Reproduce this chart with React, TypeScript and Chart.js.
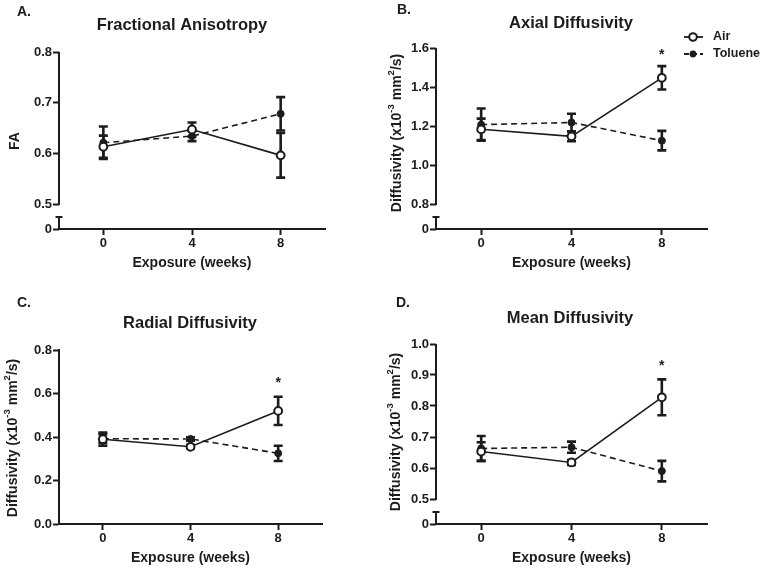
import React, { useEffect, useRef } from "react";
import { Chart, registerables } from "chart.js";

Chart.register(...registerables);

// ---------- shared data ----------
const weeks = [0, 4, 8];
const xTicks = [0, 4, 8];
const seriesNames = ["Air", "Toluene"];
const xTitle = "Exposure (weeks)";

// A. Fractional Anisotropy
const faAir = [0.613, 0.647, 0.596];
const faAirSem = [0.022, 0.014, 0.044];
const faTol = [0.621, 0.634, 0.678];
const faTolSem = [0.032, 0.01, 0.033];
const faStar: (number | null)[] = [null, null, null];
const faYTicks = [0, 0.5, 0.6, 0.7, 0.8];
const faYLabels = ["0", "0.5", "0.6", "0.7", "0.8"];

// B. Axial Diffusivity
const adAir = [1.183, 1.147, 1.447];
const adAirSem = [0.055, 0.025, 0.06];
const adTol = [1.207, 1.218, 1.125];
const adTolSem = [0.083, 0.045, 0.05];
const adStar: (number | null)[] = [null, null, 1.574];
const adYTicks = [0, 0.8, 1.0, 1.2, 1.4, 1.6];
const adYLabels = ["0", "0.8", "1.0", "1.2", "1.4", "1.6"];

// C. Radial Diffusivity
const rdAir = [0.39, 0.355, 0.52];
const rdAirSem = [0.03, 0.008, 0.065];
const rdTol = [0.392, 0.391, 0.325];
const rdTolSem = [0.02, 0.008, 0.035];
const rdStar: (number | null)[] = [null, null, 0.659];
const rdYTicks = [0, 0.2, 0.4, 0.6, 0.8];
const rdYLabels = ["0.0", "0.2", "0.4", "0.6", "0.8"];

// D. Mean Diffusivity
const mdAir = [0.653, 0.618, 0.828];
const mdAirSem = [0.03, 0.008, 0.058];
const mdTol = [0.663, 0.667, 0.59];
const mdTolSem = [0.04, 0.018, 0.033];
const mdStar: (number | null)[] = [null, null, 0.935];
const mdYTicks = [0, 0.5, 0.6, 0.7, 0.8, 0.9, 1.0];
const mdYLabels = ["0", "0.5", "0.6", "0.7", "0.8", "0.9", "1.0"];

const diffTitle = [
  { t: "Diffusivity (x10" },
  { t: "-3", sup: true },
  { t: " mm" },
  { t: "2", sup: true },
  { t: "/s)" },
];

// ---------- layout / style ----------
const INK = "#1c1c1c";
const FONT = "'Liberation Sans', Arial, Helvetica, sans-serif";
const W = 384;
const H = 285;

type Part = { t: string; sup?: boolean };
type PanelDef = {
  col: number;
  row: number;
  letter: string;
  letterPos: [number, number];
  title: string;
  titlePos: [number, number];
  yTitle: Part[];
  yTitlePos: [number, number];
  area: { l: number; t: number; r: number; b: number };
  breakAt: number | null;
  yMax: number;
  yTicks: number[];
  yLabels: string[];
  air: number[];
  airSem: number[];
  tol: number[];
  tolSem: number[];
  star: (number | null)[];
  legend: boolean;
};

const panels: PanelDef[] = [
  {
    col: 0, row: 0, letter: "A.", letterPos: [17, 12],
    title: "Fractional Anisotropy", titlePos: [182, 25],
    yTitle: [{ t: "FA" }], yTitlePos: [15, 141],
    area: { l: 59, t: 52, r: 325, b: 229 },
    breakAt: 0.5, yMax: 0.8, yTicks: faYTicks, yLabels: faYLabels,
    air: faAir, airSem: faAirSem, tol: faTol, tolSem: faTolSem, star: faStar, legend: false,
  },
  {
    col: 1, row: 0, letter: "B.", letterPos: [13, 10],
    title: "Axial Diffusivity", titlePos: [187, 23],
    yTitle: diffTitle, yTitlePos: [13, 133],
    area: { l: 52, t: 48, r: 323, b: 229 },
    breakAt: 0.8, yMax: 1.6, yTicks: adYTicks, yLabels: adYLabels,
    air: adAir, airSem: adAirSem, tol: adTol, tolSem: adTolSem, star: adStar, legend: true,
  },
  {
    col: 0, row: 1, letter: "C.", letterPos: [17, 18],
    title: "Radial Diffusivity", titlePos: [190, 38],
    yTitle: diffTitle, yTitlePos: [13, 153],
    area: { l: 59, t: 65, r: 322, b: 239 },
    breakAt: null, yMax: 0.8, yTicks: rdYTicks, yLabels: rdYLabels,
    air: rdAir, airSem: rdAirSem, tol: rdTol, tolSem: rdTolSem, star: rdStar, legend: false,
  },
  {
    col: 1, row: 1, letter: "D.", letterPos: [12, 18],
    title: "Mean Diffusivity", titlePos: [186, 33],
    yTitle: diffTitle, yTitlePos: [12, 147],
    area: { l: 52, t: 59, r: 323, b: 239 },
    breakAt: 0.5, yMax: 1.0, yTicks: mdYTicks, yLabels: mdYLabels,
    air: mdAir, airSem: mdAirSem, tol: mdTol, tolSem: mdTolSem, star: mdStar, legend: false,
  },
];

const BREAK_GAP = 25; // px between axis bottom and the lowest upper tick
const CAP_OFFSET = 12; // px height of the lower stub

function scaleMin(p: PanelDef): number {
  if (p.breakAt == null) return 0;
  const h = p.area.b - p.area.t;
  const perPx = (p.yMax - p.breakAt) / (h - BREAK_GAP);
  return p.breakAt - BREAK_GAP * perPx;
}

function drawRich(ctx: CanvasRenderingContext2D, parts: Part[], cx: number, cy: number) {
  const main = `bold 14px ${FONT}`;
  const sup = `bold 9.5px ${FONT}`;
  let total = 0;
  const widths = parts.map((pt) => {
    ctx.font = pt.sup ? sup : main;
    const w = ctx.measureText(pt.t).width;
    total += w;
    return w;
  });
  ctx.save();
  ctx.translate(cx, cy);
  ctx.rotate(-Math.PI / 2);
  ctx.fillStyle = INK;
  ctx.textBaseline = "middle";
  ctx.textAlign = "left";
  let x = -total / 2;
  parts.forEach((pt, i) => {
    ctx.font = pt.sup ? sup : main;
    ctx.fillText(pt.t, x, pt.sup ? -6 : 0);
    x += widths[i];
  });
  ctx.restore();
}

function makePlugin(p: PanelDef) {
  return {
    id: "panelDeco",
    beforeDatasetsDraw(chart: any) {
      const ctx: CanvasRenderingContext2D = chart.ctx;
      const ys = chart.scales.y;
      ctx.save();
      ctx.strokeStyle = INK;
      ctx.lineWidth = 2.6;
      chart.data.datasets.forEach((ds: any, di: number) => {
        const meta = chart.getDatasetMeta(di);
        meta.data.forEach((el: any, i: number) => {
          const v = ds.data[i].y;
          const s = ds.sem[i];
          const x = el.x;
          const y1 = ys.getPixelForValue(v + s);
          const y2 = ys.getPixelForValue(v - s);
          ctx.beginPath();
          ctx.moveTo(x, y1);
          ctx.lineTo(x, y2);
          ctx.moveTo(x - 4.5, y1);
          ctx.lineTo(x + 4.5, y1);
          ctx.moveTo(x - 4.5, y2);
          ctx.lineTo(x + 4.5, y2);
          ctx.stroke();
        });
      });
      ctx.restore();
    },
    afterDraw(chart: any) {
      const ctx: CanvasRenderingContext2D = chart.ctx;
      const ys = chart.scales.y;
      const xs = chart.scales.x;
      const ca = chart.chartArea;
      ctx.save();
      // broken y axis
      if (p.breakAt != null) {
        ctx.strokeStyle = INK;
        ctx.lineWidth = 2;
        const x0 = Math.round(ca.left);
        const yb = ys.getPixelForValue(p.breakAt);
        ctx.beginPath();
        ctx.moveTo(x0, ca.top);
        ctx.lineTo(x0, yb + 1);
        ctx.moveTo(x0, ca.bottom - CAP_OFFSET);
        ctx.lineTo(x0, ca.bottom);
        ctx.moveTo(x0 - 3.5, ca.bottom - CAP_OFFSET);
        ctx.lineTo(x0 + 3.5, ca.bottom - CAP_OFFSET);
        ctx.stroke();
      }
      // significance stars
      ctx.fillStyle = INK;
      ctx.font = `bold 14px ${FONT}`;
      ctx.textAlign = "center";
      ctx.textBaseline = "middle";
      p.star.forEach((s, i) => {
        if (s == null) return;
        ctx.fillText("*", xs.getPixelForValue(weeks[i]), ys.getPixelForValue(s) + 2);
      });
      // title
      ctx.font = `bold 16.5px ${FONT}`;
      ctx.fillText(p.title, p.titlePos[0], p.titlePos[1]);
      // letter
      ctx.font = `bold 14px ${FONT}`;
      ctx.textAlign = "left";
      ctx.fillText(p.letter, p.letterPos[0], p.letterPos[1]);
      ctx.restore();
      // y title
      drawRich(ctx, p.yTitle, p.yTitlePos[0], p.yTitlePos[1]);
      // legend
      if (p.legend) {
        ctx.save();
        const rows = [37, 54];
        chart.data.datasets.forEach((ds: any, di: number) => {
          const y = rows[di];
          ctx.strokeStyle = INK;
          ctx.lineWidth = 1.8;
          ctx.setLineDash(di === 1 ? [5, 3] : []);
          ctx.beginPath();
          ctx.moveTo(300, y);
          ctx.lineTo(319, y);
          ctx.stroke();
          ctx.setLineDash([]);
          ctx.beginPath();
          ctx.arc(309, y, di === 0 ? 3.8 : 3.4, 0, Math.PI * 2);
          ctx.fillStyle = di === 0 ? "#ffffff" : INK;
          ctx.fill();
          if (di === 0) {
            ctx.lineWidth = 2;
            ctx.stroke();
          }
          ctx.fillStyle = INK;
          ctx.font = `bold 12.5px ${FONT}`;
          ctx.textAlign = "left";
          ctx.textBaseline = "middle";
          ctx.fillText(seriesNames[di], 329, y);
        });
        ctx.restore();
      }
    },
  };
}

function Panel({ p }: { p: PanelDef }) {
  const ref = useRef<HTMLCanvasElement | null>(null);
  useEffect(() => {
    if (!ref.current) return;
    const yMin = scaleMin(p);
    const chart = new Chart(ref.current, {
      type: "line",
      data: {
        datasets: [
          {
            label: seriesNames[0],
            data: weeks.map((w, i) => ({ x: w, y: p.air[i] })),
            sem: p.airSem,
            borderColor: INK,
            borderWidth: 1.6,
            pointRadius: 3.9,
            pointBorderWidth: 2,
            pointBackgroundColor: "#ffffff",
            pointBorderColor: INK,
            fill: false,
            tension: 0,
          } as any,
          {
            label: seriesNames[1],
            data: weeks.map((w, i) => ({ x: w, y: p.tol[i] })),
            sem: p.tolSem,
            borderColor: INK,
            borderWidth: 1.6,
            borderDash: [6, 4],
            pointRadius: 3.5,
            pointBorderWidth: 1,
            pointBackgroundColor: INK,
            pointBorderColor: INK,
            fill: false,
            tension: 0,
          } as any,
        ],
      },
      options: {
        animation: false,
        responsive: false,
        devicePixelRatio: 1,
        layout: {
          padding: { left: 0, top: p.area.t, right: W - p.area.r, bottom: 0 },
        },
        plugins: {
          legend: { display: false },
          tooltip: { enabled: false },
          title: { display: false },
        },
        scales: {
          x: {
            type: "linear",
            min: -2,
            max: 10,
            afterBuildTicks: (scale: any) => {
              scale.ticks = xTicks.map((v) => ({ value: v }));
            },
            afterFit: (scale: any) => {
              scale.height = H - p.area.b;
            },
            ticks: {
              autoSkip: false,
              maxRotation: 0,
              padding: 1,
              color: INK,
              font: { family: FONT, size: 13, weight: "bold" },
              callback: (v: any) => String(v),
            },
            grid: {
              display: true,
              drawOnChartArea: false,
              drawTicks: true,
              tickLength: 6,
              tickWidth: 2,
              tickColor: INK,
            },
            border: { display: true, color: INK, width: 2 },
            title: {
              display: true,
              text: xTitle,
              color: INK,
              font: { family: FONT, size: 14, weight: "bold" },
              padding: { top: 0, bottom: H - p.area.b - 34 - 8.4 },
            },
          },
          y: {
            type: "linear",
            min: yMin,
            max: p.yMax,
            afterBuildTicks: (scale: any) => {
              scale.ticks = p.yTicks.map((v) => ({
                value: p.breakAt != null && v === 0 ? yMin : v,
              }));
            },
            afterFit: (scale: any) => {
              scale.width = p.area.l;
            },
            ticks: {
              autoSkip: false,
              padding: 1,
              color: INK,
              font: { family: FONT, size: 13, weight: "bold" },
              callback: (_v: any, i: number) => p.yLabels[i],
            },
            grid: {
              display: true,
              drawOnChartArea: false,
              drawTicks: true,
              tickLength: 6,
              tickWidth: 2,
              tickColor: INK,
            },
            border: { display: p.breakAt == null, color: INK, width: 2 },
          },
        },
      } as any,
      plugins: [makePlugin(p) as any],
    });
    return () => chart.destroy();
  }, []);
  return (
    <canvas
      ref={ref}
      width={W}
      height={H}
      style={{ position: "absolute", left: p.col * W, top: p.row * H, width: W, height: H }}
    />
  );
}

export default function App() {
  return (
    <div
      style={{
        position: "absolute",
        left: 0,
        top: 0,
        width: 768,
        height: 570,
        background: "#ffffff",
        overflow: "hidden",
      }}
    >
      {panels.map((p) => (
        <Panel key={p.letter} p={p} />
      ))}
    </div>
  );
}
